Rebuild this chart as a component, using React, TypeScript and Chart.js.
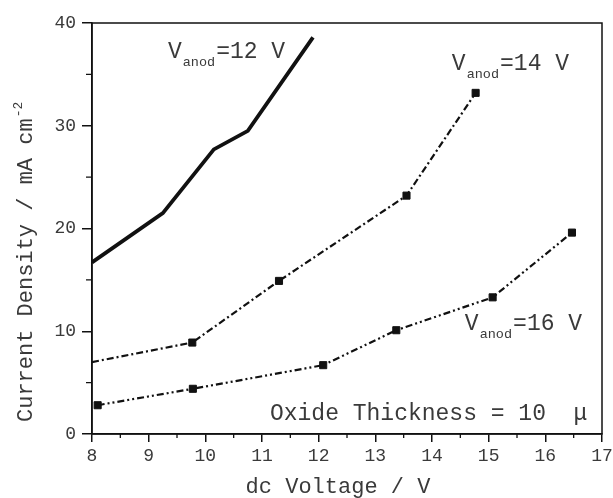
import React, { useEffect, useRef } from "react";
import { Chart, registerables } from "chart.js";

Chart.register(...registerables);

// ---- data ----
const xMin = 8;
const xMax = 17;
const yMin = 0;
const yMax = 40;
const xMinorTicks = [8.5, 9.5, 10.5, 11.5, 12.5, 13.5, 14.5, 15.5, 16.5];
const yMinorTicks = [5, 15, 25, 35];

const v12X = [8, 9.25, 10.15, 10.75, 11.9];
const v12Y = [16.7, 21.5, 27.7, 29.5, 38.6];

const v14X = [8, 9.77, 11.3, 13.55, 14.77];
const v14Y = [7.0, 8.9, 14.9, 23.2, 33.2];

const v16X = [8.1, 9.78, 12.08, 13.37, 15.07, 16.47];
const v16Y = [2.8, 4.4, 6.7, 10.1, 13.3, 19.6];

const seriesLabels = ["=12 V", "=14 V", "=16 V"];
const labelX = [9.34, 14.35, 14.58];
const labelY = [36.6, 35.4, 10.1];

const noteText = "Oxide Thickness = 10  \u03bc";
const noteX = 11.14;
const noteY = 1.36;

const xTitle = "dc Voltage / V";
const yTitle = "Current Density / mA cm";
const yTitleSup = "-2";

const FONT = "'Liberation Mono', 'Courier New', monospace";
const INK = "#111111";
const TEXT = "#3a3a3a";

const toPts = (xs: number[], ys: number[]) => xs.map((x, i) => ({ x, y: ys[i] }));

const decorPlugin = {
  id: "decor",
  afterDraw(chart: any) {
    const ctx = chart.ctx as CanvasRenderingContext2D;
    const { left, right, top, bottom } = chart.chartArea;
    const xs = chart.scales.x;
    const ys = chart.scales.y;
    ctx.save();
    // frame
    ctx.strokeStyle = INK;
    ctx.lineWidth = 1.5;
    ctx.strokeRect(left, top, right - left, bottom - top);
    // minor ticks
    ctx.lineWidth = 1.3;
    ctx.beginPath();
    xMinorTicks.forEach((v) => {
      const px = xs.getPixelForValue(v);
      ctx.moveTo(px, bottom);
      ctx.lineTo(px, bottom + 4);
    });
    yMinorTicks.forEach((v) => {
      const py = ys.getPixelForValue(v);
      ctx.moveTo(left, py);
      ctx.lineTo(left - 6, py);
    });
    ctx.stroke();

    ctx.fillStyle = TEXT;
    ctx.textBaseline = "alphabetic";
    ctx.textAlign = "left";
    // series labels
    seriesLabels.forEach((rest, i) => {
      const px = xs.getPixelForValue(labelX[i]);
      const py = ys.getPixelForValue(labelY[i]);
      ctx.font = `23px ${FONT}`;
      ctx.fillText("V", px, py);
      const wV = ctx.measureText("V").width;
      ctx.font = `13.5px ${FONT}`;
      ctx.fillText("anod", px + wV + 1, py + 8);
      const wS = ctx.measureText("anod").width;
      ctx.font = `23px ${FONT}`;
      ctx.fillText(rest, px + wV + wS + 2, py);
    });
    // note
    ctx.font = `23px ${FONT}`;
    ctx.fillText(noteText, xs.getPixelForValue(noteX), ys.getPixelForValue(noteY));

    // x title
    ctx.textAlign = "center";
    ctx.font = `22px ${FONT}`;
    ctx.fillText(xTitle, 338, 493);

    // y title
    ctx.translate(32, 422);
    ctx.rotate(-Math.PI / 2);
    ctx.textAlign = "left";
    ctx.font = `22px ${FONT}`;
    ctx.fillText(yTitle, 0, 0);
    const w = ctx.measureText(yTitle).width;
    ctx.font = `13px ${FONT}`;
    ctx.fillText(yTitleSup, w + 1, -10);
    ctx.restore();
  },
};

export default function App() {
  const ref = useRef<HTMLCanvasElement | null>(null);
  useEffect(() => {
    if (!ref.current) return;
    const chart = new Chart(ref.current, {
      type: "line",
      data: {
        datasets: [
          {
            data: toPts(v12X, v12Y),
            borderColor: INK,
            borderWidth: 3.8,
            pointRadius: 0,
            fill: false,
            tension: 0,
          },
          {
            data: toPts(v14X, v14Y),
            borderColor: INK,
            borderWidth: 2.2,
            borderDash: [7, 3, 2, 3],
            pointStyle: "rect",
            pointRadius: (c: any) => (c.dataIndex === 0 ? 0 : 5),
            pointBackgroundColor: INK,
            pointBorderColor: INK,
            pointBorderWidth: 1,
            fill: false,
            tension: 0,
          },
          {
            data: toPts(v16X, v16Y),
            borderColor: INK,
            borderWidth: 2.2,
            borderDash: [7, 3, 2, 3, 2, 3],
            pointStyle: "rect",
            pointRadius: 5,
            pointBackgroundColor: INK,
            pointBorderColor: INK,
            pointBorderWidth: 1,
            fill: false,
            tension: 0,
          },
        ],
      },
      options: {
        responsive: false,
        animation: false,
        parsing: false as any,
        layout: { padding: { left: 0, top: 23, right: 11, bottom: 0 } },
        plugins: { legend: { display: false }, tooltip: { enabled: false } },
        scales: {
          x: {
            type: "linear",
            min: xMin,
            max: xMax,
            ticks: { stepSize: 1, color: TEXT, padding: 3, font: { family: FONT, size: 18 } },
            grid: {
              drawOnChartArea: false,
              tickLength: 8,
              tickColor: INK,
              tickWidth: 1.5,
              color: INK,
              lineWidth: 1.5,
            },
            border: { display: true, color: INK, width: 1.5 },
            afterFit: (s: any) => {
              s.height = 64;
              s.paddingLeft = 0;
              s.paddingRight = 0;
            },
          },
          y: {
            type: "linear",
            min: yMin,
            max: yMax,
            ticks: { stepSize: 10, color: TEXT, padding: 6, font: { family: FONT, size: 18 } },
            grid: {
              drawOnChartArea: false,
              tickLength: 10,
              tickColor: INK,
              tickWidth: 1.5,
              color: INK,
              lineWidth: 1.5,
            },
            border: { display: true, color: INK, width: 1.5 },
            afterFit: (s: any) => {
              s.width = 92;
              s.paddingTop = 0;
              s.paddingBottom = 0;
            },
          },
        },
      },
      plugins: [decorPlugin],
    });
    return () => chart.destroy();
  }, []);
  return (
    <div style={{ position: "fixed", left: 0, top: 0, width: 613, height: 498, background: "#fff" }}>
      <canvas ref={ref} width={613} height={498} style={{ display: "block" }} />
    </div>
  );
}
